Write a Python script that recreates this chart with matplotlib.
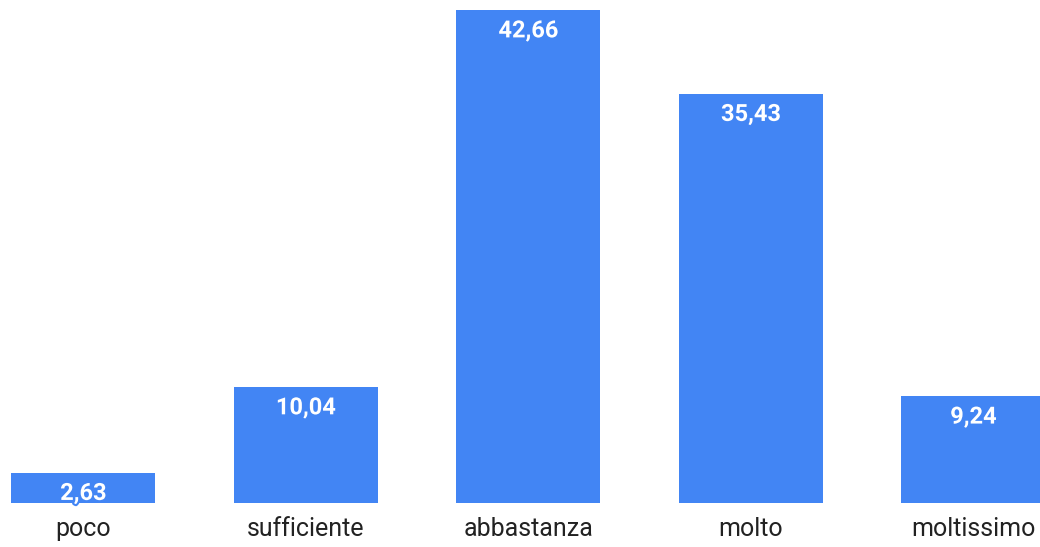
import matplotlib
matplotlib.use("Agg")
import matplotlib.pyplot as plt
import matplotlib.patheffects as pe

# Dati del grafico
categorie = ["poco", "sufficiente", "abbastanza", "molto", "moltissimo"]
valori = [2.63, 10.04, 42.66, 35.43, 9.24]
etichette = ["2,63", "10,04", "42,66", "35,43", "9,24"]

blu = "#4285F4"

plt.rcParams["font.family"] = ["Roboto", "DejaVu Sans"]

fig = plt.figure(figsize=(10.4, 5.47), dpi=100)
ax = fig.add_axes([0, 44 / 547, 1, 503 / 547])

x = list(range(len(categorie)))
barre = ax.bar(x, valori, width=0.647, color=blu, zorder=2)

# Etichette dei valori dentro le barre
for xi, v, et in zip(x, valori, etichette):
    ax.annotate(et, xy=(xi, v), xytext=(0, -15), textcoords="offset points",
                ha="center", va="center", color="white", fontsize=17,
                fontweight="bold", zorder=3,
                path_effects=[pe.withStroke(linewidth=3, foreground=blu)])

ax.set_xlim(-0.375, 4.299)
ax.set_ylim(0, 43.53)
ax.set_xticks(x)
ax.set_xticklabels(categorie, fontsize=18, color="#222222")
ax.tick_params(axis="x", length=0, pad=10)
ax.set_yticks([])
for s in ax.spines.values():
    s.set_visible(False)

fig.savefig("out.png", dpi=100)
